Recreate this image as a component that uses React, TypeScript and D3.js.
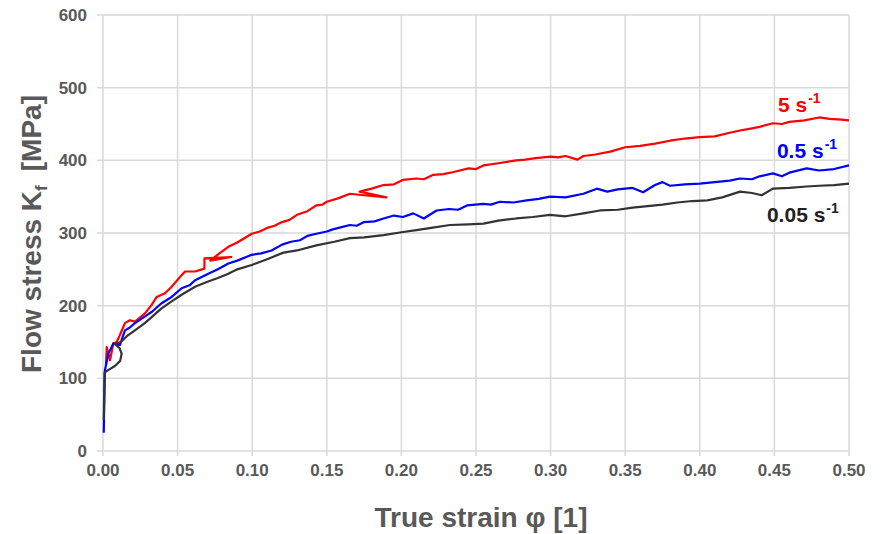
import React, { useEffect, useRef } from "react";
import * as d3 from "d3";

// strain [-], flow stress [MPa] — points kept in draw order (some curves fold back)
const red5: [number, number][] = [
  [0.002, 118], [0.0025, 143], [0.0047, 125], [0.0069, 148], [0.0092, 150], [0.0114, 160],
  [0.0147, 176], [0.018, 180], [0.0214, 178], [0.028, 189], [0.0326, 201], [0.036, 212],
  [0.0416, 217], [0.046, 226], [0.0527, 242], [0.055, 247], [0.0617, 247], [0.068, 251],
  [0.068, 265], [0.086, 267], [0.072, 262], [0.078, 272], [0.084, 281], [0.09, 287],
  [0.0997, 299], [0.105, 302], [0.11, 307], [0.115, 310], [0.12, 315], [0.125, 318],
  [0.13, 325], [0.137, 330], [0.143, 338], [0.147, 339], [0.15, 343],
  [0.158, 348], [0.1655, 354], [0.17, 353], [0.19, 349], [0.172, 357], [0.18, 361],
  [0.188, 366], [0.195, 367], [0.201, 373], [0.21, 375], [0.215, 374], [0.2214, 380],
  [0.228, 381], [0.235, 384], [0.245, 389], [0.25, 388], [0.255, 393], [0.265, 396],
  [0.277, 400], [0.283, 401], [0.29, 403], [0.3, 405], [0.305, 404],
  [0.31, 406], [0.318, 401], [0.322, 406], [0.33, 408], [0.34, 412], [0.35, 418],
  [0.36, 420], [0.37, 423], [0.38, 427], [0.39, 430], [0.4, 432], [0.41, 433],
  [0.42, 438], [0.427, 441], [0.435, 444], [0.44, 446], [0.449, 451], [0.455, 450],
  [0.46, 453], [0.47, 455], [0.48, 459], [0.487, 457], [0.495, 456], [0.5, 455],
];

const blue05: [number, number][] = [
  [0.0005, 25], [0.0008, 60], [0.0013, 111], [0.0036, 134], [0.0069, 148], [0.0114, 146],
  [0.0147, 166], [0.018, 170], [0.0214, 176], [0.028, 185], [0.033, 192], [0.039, 203],
  [0.046, 212], [0.0527, 224], [0.058, 228], [0.0617, 235], [0.0706, 244], [0.077, 250],
  [0.084, 258], [0.09, 262], [0.0997, 270], [0.106, 272], [0.113, 276], [0.12, 284],
  [0.126, 288], [0.132, 290], [0.137, 296], [0.143, 299], [0.15, 302], [0.154, 305],
  [0.158, 307], [0.1655, 311], [0.17, 310], [0.175, 315], [0.182, 316], [0.188, 320],
  [0.195, 324], [0.201, 322], [0.208, 327], [0.215, 320],
  [0.2236, 331], [0.232, 333], [0.238, 332], [0.244, 338], [0.255, 340], [0.26, 339],
  [0.266, 343], [0.275, 342], [0.284, 345], [0.292, 347], [0.2996, 350], [0.31, 349],
  [0.322, 354], [0.331, 361], [0.338, 357],
  [0.345, 360], [0.355, 362], [0.362, 356], [0.37, 366], [0.375, 370], [0.38, 365],
  [0.39, 367], [0.4, 368], [0.41, 370], [0.42, 372], [0.427, 375], [0.435, 374],
  [0.44, 378], [0.449, 382], [0.455, 378], [0.46, 383], [0.4716, 389], [0.48, 386],
  [0.49, 388], [0.5, 393],
];

const black005: [number, number][] = [
  [0.0005, 43], [0.0008, 80], [0.001, 108], [0.004, 112], [0.008, 117], [0.0115, 124],
  [0.0125, 134], [0.011, 142], [0.008, 147], [0.012, 150], [0.016, 158], [0.0214, 166],
  [0.028, 176], [0.033, 185], [0.039, 196], [0.046, 206], [0.0527, 215], [0.0617, 226],
  [0.07, 233], [0.077, 238], [0.084, 244], [0.09, 250], [0.0997, 256], [0.11, 264],
  [0.121, 273], [0.13, 276], [0.143, 283], [0.155, 288], [0.1655, 293], [0.175, 294],
  [0.188, 297], [0.2, 301], [0.21, 304], [0.22, 307], [0.2326, 311], [0.245, 312],
  [0.255, 313], [0.265, 317], [0.277, 320], [0.288, 322], [0.2996, 325], [0.31, 323],
  [0.322, 327], [0.333, 331], [0.345, 332], [0.355, 335], [0.365, 337], [0.375, 339],
  [0.385, 342], [0.395, 344], [0.405, 345], [0.415, 349], [0.427, 357], [0.435, 355],
  [0.4415, 352], [0.449, 361], [0.46, 362], [0.4716, 364], [0.48, 365], [0.49, 366],
  [0.5, 368],
];

const xTicks = [0, 0.05, 0.1, 0.15, 0.2, 0.25, 0.3, 0.35, 0.4, 0.45, 0.5];
const yTicks = [0, 100, 200, 300, 400, 500, 600];

const series = [
  { name: "5", data: red5, color: "#ff0000" },
  { name: "0.5", data: blue05, color: "#0000ff" },
  { name: "0.05", data: black005, color: "#333333" },
];

// label anchor values (strain, stress)
const labels = [
  { text: "5 s", at: [0.4524, 467], color: "#ff0000" },
  { text: "0.5 s", at: [0.4517, 403], color: "#0000ff" },
  { text: "0.05 s", at: [0.445, 315], color: "#222222" },
];

const FONT = "'Liberation Sans', Arial, sans-serif";
const GREY = "#595959";

export default function App() {
  const svgRef = useRef<SVGSVGElement>(null);

  useEffect(() => {
    const svg = d3.select(svgRef.current);
    const width = 885;
    const height = 534;
    const margin = { top: 15, right: 36, bottom: 83, left: 103 };
    svg.attr("width", width).attr("height", height);
    svg.selectAll("*").remove();

    const x = d3.scaleLinear().domain([0, 0.5]).range([margin.left, width - margin.right]);
    const y = d3.scaleLinear().domain([0, 600]).range([height - margin.bottom, margin.top]);

    // grid
    const grid = svg.append("g").attr("stroke", "#d9d9d9").attr("stroke-width", 1.5);
    grid
      .selectAll("line.h")
      .data(yTicks)
      .join("line")
      .attr("x1", x(0) - 6)
      .attr("x2", x(0.5))
      .attr("y1", (d) => y(d))
      .attr("y2", (d) => y(d));
    grid
      .selectAll("line.v")
      .data(xTicks)
      .join("line")
      .attr("x1", (d) => x(d))
      .attr("x2", (d) => x(d))
      .attr("y1", y(600))
      .attr("y2", y(0) + 5);

    // tick labels
    svg
      .append("g")
      .selectAll("text")
      .data(yTicks)
      .join("text")
      .attr("x", x(0) - 16)
      .attr("y", (d) => y(d) + 6)
      .attr("text-anchor", "end")
      .style("font", `bold 17px ${FONT}`)
      .attr("fill", GREY)
      .text((d) => d);
    svg
      .append("g")
      .selectAll("text")
      .data(xTicks)
      .join("text")
      .attr("x", (d) => x(d))
      .attr("y", y(0) + 25)
      .attr("text-anchor", "middle")
      .style("font", `bold 17px ${FONT}`)
      .attr("fill", GREY)
      .text((d) => d3.format(".2f")(d));

    // axis titles
    svg
      .append("text")
      .attr("x", 481)
      .attr("y", 527)
      .attr("text-anchor", "middle")
      .style("font", `bold 28px ${FONT}`)
      .attr("fill", GREY)
      .text("True strain φ [1]");

    const yt = svg
      .append("text")
      .attr("transform", `translate(41,${234}) rotate(-90)`)
      .attr("text-anchor", "middle")
      .style("font", `bold 28px ${FONT}`)
      .attr("fill", GREY);
    yt.append("tspan").text("Flow stress K");
    yt.append("tspan").attr("dy", 6).style("font-size", "17px").text("f");
    yt.append("tspan").attr("dy", -6).attr("dx", 14).text("[MPa]");

    // curves
    const line = d3
      .line<[number, number]>()
      .x((d) => x(d[0]))
      .y((d) => y(d[1]));
    series.forEach((s) => {
      svg
        .append("path")
        .datum(s.data)
        .attr("d", line)
        .attr("fill", "none")
        .attr("stroke", s.color)
        .attr("stroke-width", 2.2)
        .attr("stroke-linejoin", "round");
    });

    // rate labels
    labels.forEach((l) => {
      const t = svg
        .append("text")
        .attr("x", x(l.at[0]))
        .attr("y", y(l.at[1]))
        .style("font", `bold 21px ${FONT}`)
        .attr("fill", l.color);
      t.append("tspan").text(l.text);
      t.append("tspan").attr("dy", -9).attr("dx", 1).style("font-size", "14px").text("-1");
    });
  }, []);

  return (
    <svg
      ref={svgRef}
      style={{ position: "absolute", left: 0, top: 0, background: "#fff" }}
    ></svg>
  );
}
